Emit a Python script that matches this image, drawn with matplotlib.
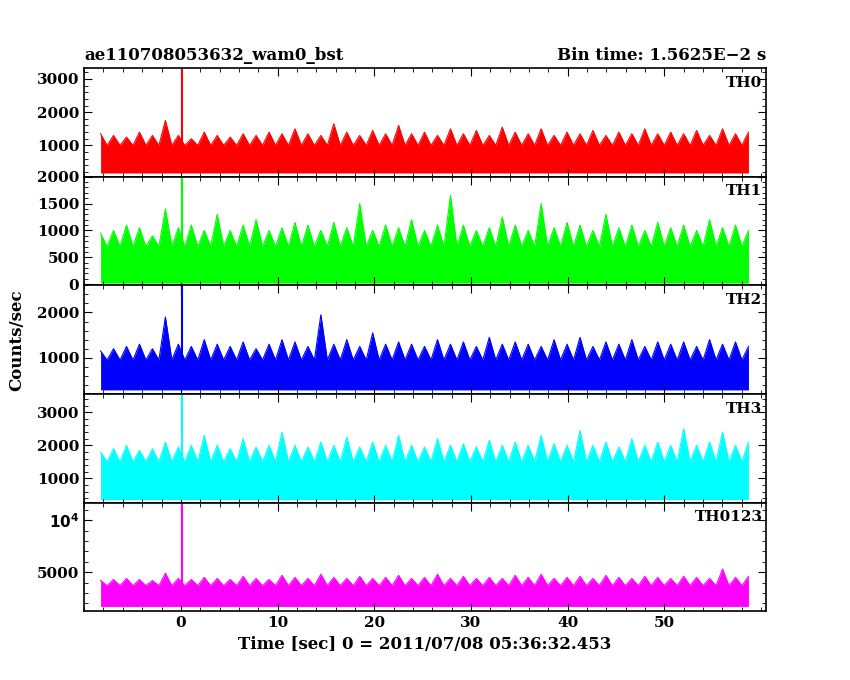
import matplotlib.pyplot as plt
import numpy as np

plt.rcParams['font.family'] = ['DejaVu Serif']
plt.rcParams['font.weight'] = 'bold'

t_start, t_end = -8.3, 58.7
spike_t = 0.1

names = ['TH0', 'TH1', 'TH2', 'TH3', 'TH0123']
colors = ['#ff0000', '#00ff00', '#0000ff', '#00ffff', '#ff00ff']
base = [170, 20, 290, 360, 1700]
solid = [1000, 700, 950, 1500, 3700]
spike = [3330, 2000, 2600, 3550, 11700]
ylims = [(60, 3330), (-20, 2000), (200, 2600), (270, 3550), (1230, 11700)]
yticks = [[1000, 2000, 3000], [0, 500, 1000, 1500, 2000], [1000, 2000],
          [1000, 2000, 3000], [5000, 10000]]
yticklabels = [['1000', '2000', '3000'], ['0', '500', '1000', '1500', '2000'],
               ['1000', '2000'], ['1000', '2000', '3000'], ['5000', r'$10^4$']]

# envelope, alternating highs and lows (~0.6 s apart)
levels = [
    [1350, 750, 1300, 700, 1250, 800, 1400, 650, 1300, 750, 1750, 800, 1300, 700, 1200, 750,
     1400, 700, 1300, 800, 1250, 650, 1350, 750, 1300, 700, 1400, 800, 1350, 750, 1500, 700,
     1350, 800, 1300, 700, 1650, 750, 1400, 800, 1300, 700, 1450, 750, 1350, 800, 1600, 700,
     1350, 750, 1400, 800, 1300, 700, 1500, 750, 1350, 800, 1450, 700, 1300, 750, 1550, 800,
     1400, 700, 1350, 750, 1500, 800, 1300, 700, 1400, 750, 1350, 800, 1450, 700, 1300, 750,
     1400, 800, 1350, 700, 1500, 750, 1350, 800, 1400, 700, 1350, 750, 1450, 800, 1300, 700,
     1500, 750, 1350, 800, 1400],
    [950, 300, 1000, 250, 1100, 350, 1050, 300, 900, 250, 1400, 300, 1050, 350, 1100, 250,
     1000, 300, 1300, 350, 1000, 250, 1100, 300, 1200, 350, 1000, 250, 1050, 300, 1150, 350,
     1100, 250, 1000, 300, 1150, 350, 1050, 250, 1500, 300, 1000, 350, 1100, 250, 1050, 300,
     1200, 350, 1000, 250, 1100, 300, 1650, 350, 1100, 250, 1000, 300, 1050, 350, 1250, 250,
     1100, 300, 1000, 350, 1500, 250, 1050, 300, 1150, 350, 1100, 250, 1000, 300, 1300, 350,
     1050, 250, 1100, 300, 1000, 350, 1150, 250, 1050, 300, 1100, 350, 1000, 250, 1200, 300,
     1050, 350, 1100, 250, 1000],
    [1150, 450, 1200, 400, 1250, 500, 1300, 450, 1200, 400, 1900, 450, 1300, 500, 1250, 400,
     1400, 450, 1300, 500, 1250, 400, 1350, 450, 1200, 500, 1300, 400, 1400, 450, 1350, 500,
     1250, 400, 1950, 450, 1300, 500, 1400, 400, 1250, 450, 1550, 500, 1300, 400, 1350, 450,
     1300, 500, 1250, 400, 1400, 450, 1300, 500, 1350, 400, 1250, 450, 1450, 500, 1300, 400,
     1350, 450, 1300, 500, 1250, 400, 1400, 450, 1300, 500, 1450, 400, 1250, 450, 1350, 500,
     1300, 400, 1400, 450, 1250, 500, 1350, 400, 1300, 450, 1350, 500, 1250, 400, 1400, 450,
     1300, 500, 1350, 400, 1250],
    [1800, 700, 1900, 650, 2000, 750, 1850, 700, 1900, 650, 2100, 700, 1950, 750, 2000, 650,
     2300, 700, 2000, 750, 1900, 650, 2200, 700, 1950, 750, 2000, 650, 2400, 700, 2000, 750,
     1950, 650, 2100, 700, 2000, 750, 2250, 650, 1950, 700, 2100, 750, 2000, 650, 2300, 700,
     2000, 750, 1950, 650, 2200, 700, 2000, 750, 2050, 650, 1950, 700, 2150, 750, 2000, 650,
     2100, 700, 2000, 750, 2300, 650, 2050, 700, 2000, 750, 2450, 650, 2000, 700, 2100, 750,
     1950, 650, 2200, 700, 2000, 750, 2100, 650, 2000, 700, 2500, 750, 2000, 650, 2100, 700,
     2400, 750, 2000, 650, 2100],
    [4200, 2700, 4300, 2600, 4400, 2800, 4300, 2700, 4200, 2600, 4900, 2700, 4400, 2800, 4300, 2600,
     4500, 2700, 4400, 2800, 4300, 2600, 4600, 2700, 4400, 2800, 4300, 2600, 4700, 2700, 4500, 2800,
     4400, 2600, 4800, 2700, 4500, 2800, 4400, 2600, 4600, 2700, 4400, 2800, 4500, 2600, 4700, 2700,
     4400, 2800, 4500, 2600, 4800, 2700, 4400, 2800, 4600, 2600, 4400, 2700, 4500, 2800, 4400, 2600,
     4700, 2700, 4500, 2800, 4800, 2600, 4400, 2700, 4500, 2800, 4600, 2600, 4400, 2700, 4700, 2800,
     4500, 2600, 4400, 2700, 4600, 2800, 4500, 2600, 4400, 2700, 4600, 2800, 4500, 2600, 4400, 2700,
     5300, 2800, 4500, 2600, 4600],
]

fig, axes = plt.subplots(5, 1, sharex=True, figsize=(8.5, 6.8), dpi=100)
fig.subplots_adjust(left=0.099, right=0.901, top=0.9, bottom=0.101, hspace=0)

for i, ax in enumerate(axes):
    y = np.maximum(np.array(levels[i], dtype=float), solid[i])
    t = np.linspace(t_start, t_end, len(y))
    ax.fill_between(t, base[i], y, color=colors[i], lw=0)
    ax.plot(t, y, color=colors[i], lw=0.8)
    ax.vlines(spike_t, base[i], spike[i], color=colors[i], lw=1.5)
    ax.set_ylim(*ylims[i])
    ax.set_yticks(yticks[i])
    ax.set_yticklabels(yticklabels[i])
    ax.set_xlim(-10, 60.5)
    ax.minorticks_on()
    ax.tick_params(which='both', direction='in', top=True, right=True, labelsize=11)
    ax.tick_params(which='major', length=6)
    ax.tick_params(which='minor', length=3)
    ax.text(0.995, 0.93, names[i], transform=ax.transAxes, ha='right', va='top',
            fontsize=11, fontweight='bold')
    for s in ax.spines.values():
        s.set_linewidth(1.2)

axes[-1].set_xticks([0, 10, 20, 30, 40, 50])
axes[-1].set_xlabel('Time [sec] 0 = 2011/07/08 05:36:32.453', fontsize=12, fontweight='bold')
axes[0].set_title('ae110708053632_wam0_bst', loc='left', fontsize=12, fontweight='bold')
axes[0].set_title('Bin time: 1.5625E\u22122 s', loc='right', fontsize=12, fontweight='bold')
fig.text(0.01, 0.5, 'Counts/sec', rotation=90, va='center', fontsize=12, fontweight='bold')

fig.savefig('out.png')
